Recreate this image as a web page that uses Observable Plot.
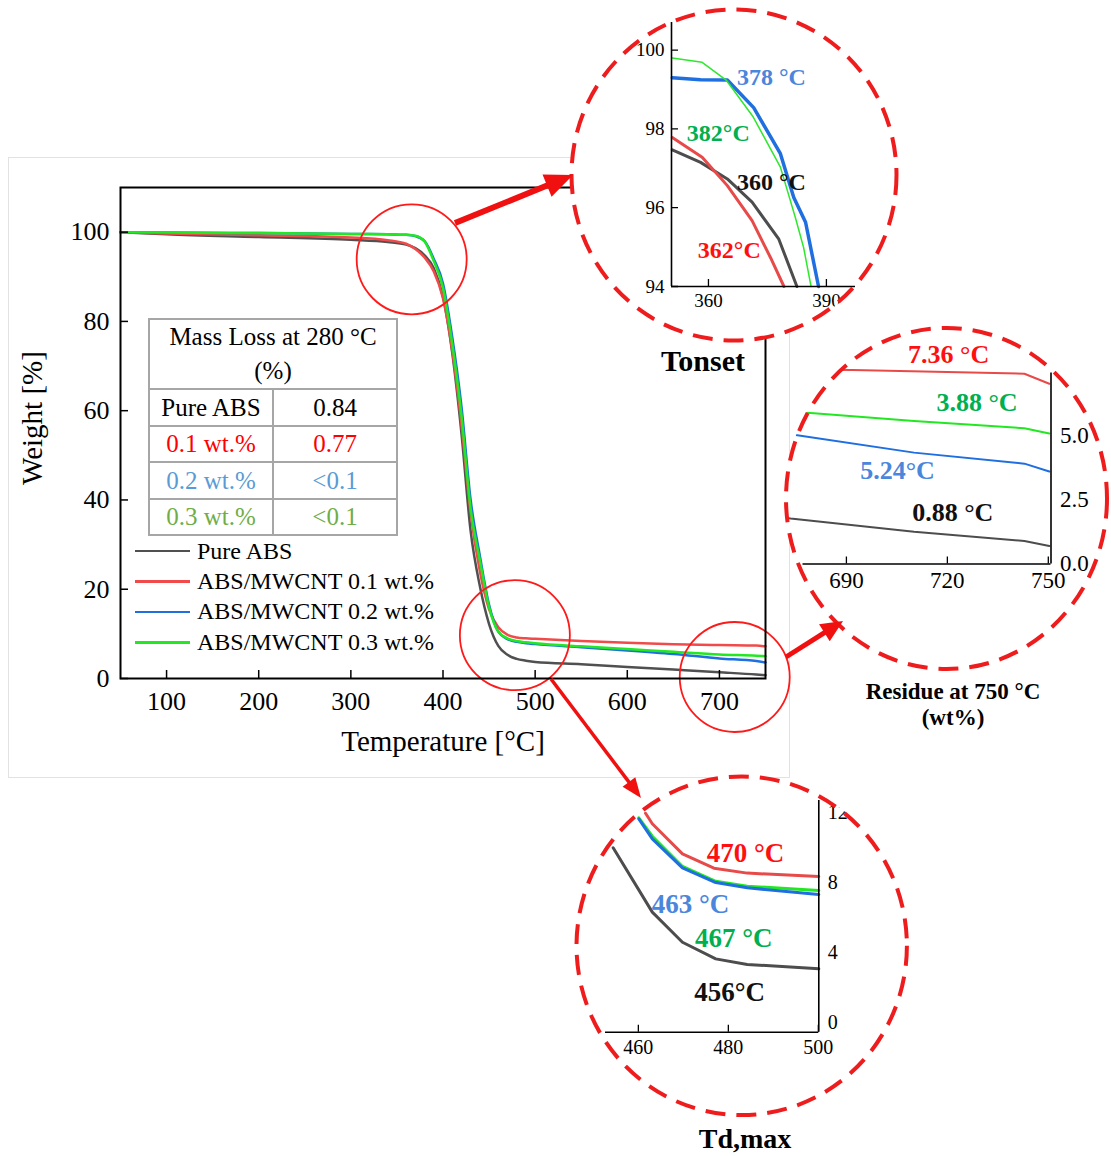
<!DOCTYPE html>
<html><head><meta charset="utf-8">
<script src="https://cdn.jsdelivr.net/npm/d3@7"></script>
<script src="https://cdn.jsdelivr.net/npm/@observablehq/plot@0.6"></script>
<style>
body{margin:0;background:#fff;}
#page{position:relative;width:1111px;height:1156px;overflow:hidden;font-family:"Liberation Serif","Times New Roman",serif;color:#000;}
.abs{position:absolute;}
.inset{position:absolute;background:#fff;clip-path:ellipse(50% 50% at 50% 50%);}
.inset svg{position:absolute;left:0;top:0;}
#bg{position:absolute;left:8px;top:157px;width:780px;height:619px;border:1px solid #e2e2e2;}
#tbl{position:absolute;left:148px;top:318px;border-collapse:collapse;font-size:25px;}
#tbl td{border:2.5px solid #a6a6a6;text-align:center;padding:0;line-height:1;}
.title{position:absolute;font-weight:bold;text-align:center;transform:translateX(-50%);white-space:nowrap;line-height:1;}
#legend{position:absolute;left:135px;top:536px;font-size:24px;}
.lrow{height:30.4px;display:flex;align-items:center;}
.lline{width:55px;height:2.5px;margin-right:7px;}
</style></head>
<body><div id="page">
<div id="bg"></div>
<div id="mainHost" class="abs" style="left:0;top:0"></div>
<table id="tbl"></table>
<div id="legend"></div>
<div id="inOnset" class="inset"></div>
<div id="inResidue" class="inset"></div>
<div id="inTd" class="inset"></div>
<div class="title" style="left:703px;top:346px;font-size:30px">Tonset</div>
<div class="title" style="left:953px;top:680px;font-size:23px">Residue at 750 °C</div>
<div class="title" style="left:953px;top:706px;font-size:23px">(wt%)</div>
<div class="title" style="left:745px;top:1125px;font-size:28px">Td,max</div>
</div>
<script>
// ---------- Main TGA data ----------
const seriesNames = ["Pure ABS", "ABS/MWCNT 0.1 wt.%", "ABS/MWCNT 0.2 wt.%", "ABS/MWCNT 0.3 wt.%"];
const seriesColors = ["#505050", "#f04a4a", "#1f6fe0", "#22e822"];
const temps   = [50, 100, 200, 300, 340, 360, 370, 380, 390, 400, 410, 420, 430, 440, 450, 460, 470, 480, 490, 500, 550, 600, 650, 700, 740, 750];
const wPure   = [100, 99.5, 98.9, 98.3, 97.8, 97.2, 96.4, 94.8, 91.9, 85.5, 73, 55, 33, 20.7, 12.2, 7.3, 5.3, 4.4, 4.0, 3.7, 3.2, 2.6, 2.0, 1.4, 0.9, 0.75];
const wCnt01  = [100, 99.7, 99.3, 98.8, 98.2, 97.4, 96.2, 94.3, 91.2, 85.2, 73.5, 57, 37, 24, 15.5, 11.5, 9.8, 9.2, 9.0, 8.9, 8.4, 8.0, 7.7, 7.5, 7.4, 7.2];
const wCnt02  = [100, 99.9, 99.8, 99.6, 99.5, 99.4, 99.1, 98.0, 94.0, 88.5, 76.5, 61, 40, 27.5, 16.5, 10.5, 8.8, 8.2, 7.9, 7.7, 7.0, 6.3, 5.5, 4.5, 3.9, 3.6];
const wCnt03  = [100, 99.9, 99.8, 99.6, 99.5, 99.4, 99.2, 97.9, 93.5, 87.5, 75, 59, 38, 26.5, 16, 10.5, 9.0, 8.4, 8.1, 7.9, 7.2, 6.6, 6.0, 5.4, 5.1, 5.0];
const xTicks = [100, 200, 300, 400, 500, 600, 700];
const yTicks = [0, 20, 40, 60, 80, 100];
const xLabel = "Temperature [°C]";
const yLabel = "Weight [%]";
// zoomed regions marked on the main chart (temperature, weight)
const zoomSpotT = [366, 478, 716.6];
const zoomSpotW = [93.9, 9.7, 0.34];

// ---------- Table ----------
const tableHead = ["Mass Loss at 280 °C", "(%)"];
const tableRows = ["Pure ABS", "0.1 wt.%", "0.2 wt.%", "0.3 wt.%"];
const tableValues = ["0.84", "0.77", "<0.1", "<0.1"];
const tableColors = ["#000000", "#ff0000", "#5b9bd5", "#70ad47"];

// ---------- Tonset inset ----------
const onsetPureT  = [350.8, 358.0, 364.8, 371.1, 377.9, 382.5];
const onsetPureW  = [97.47, 97.15, 96.73, 96.14, 95.20, 94.0];
const onsetCnt01T = [350.8, 358.4, 364.8, 371.1, 375.8, 379.2];
const onsetCnt01W = [97.78, 97.28, 96.56, 95.67, 94.73, 94.0];
const onsetCnt02T = [350.8, 358.0, 364.8, 371.5, 378.3, 381.7, 384.7, 388.0];
const onsetCnt02W = [99.30, 99.25, 99.24, 98.54, 97.37, 96.26, 95.63, 94.0];
const onsetCnt03T = [350.8, 358.4, 364.5, 371.4, 378.3, 382.1, 384.2, 386.1];
const onsetCnt03W = [99.80, 99.69, 99.24, 98.30, 97.03, 95.75, 94.99, 94.0];
const onsetXTicks = [360, 390];
const onsetYTicks = [94, 96, 98, 100];
const onsetLabels = ["378 °C", "382°C", "360 °C", "362°C"];
const onsetLabelT = [376.0, 362.5, 376.0, 365.3];
const onsetLabelW = [99.31, 97.89, 96.64, 94.93];
const onsetLabelColors = ["#4a86dc", "#00b050", "#111111", "#ff1010"];

// ---------- Residue inset ----------
const resPureT  = [670, 673.4, 710.1, 742.9, 750.3];
const resPureW  = [1.85, 1.78, 1.26, 0.90, 0.70];
const resCnt01T = [670, 691.8, 742.9, 750.3];
const resCnt01W = [7.60, 7.58, 7.43, 7.04];
const resCnt02T = [670, 676.9, 710.1, 742.9, 750.3];
const resCnt02W = [5.13, 5.00, 4.35, 3.92, 3.61];
const resCnt03T = [670, 680.4, 710.1, 742.9, 750.3];
const resCnt03W = [5.98, 5.89, 5.59, 5.30, 5.10];
const resXTicks = [690, 720, 750];
const resYTicks = [0, 2.5, 5];
const resLabels = ["7.36 °C", "3.88 °C", "5.24°C", "0.88 °C"];
const resLabelT = [720.4, 728.8, 705.2, 721.6];
const resLabelW = [8.16, 6.29, 3.63, 1.99];
const resLabelColors = ["#ff1010", "#00b050", "#4a86dc", "#111111"];

// ---------- Td,max inset ----------
const tdPureT  = [454.4, 463.1, 469.8, 477.2, 484.2, 500.1];
const tdPureW  = [10.54, 6.86, 5.14, 4.19, 3.87, 3.62];
const tdCnt01T = [461.6, 463.1, 469.8, 476.8, 484.2, 500.1];
const tdCnt01W = [12.51, 11.91, 10.19, 9.37, 9.09, 8.90];
const tdCnt02T = [460.1, 463.1, 469.8, 477.2, 484.2, 500.1];
const tdCnt02W = [12.19, 11.05, 9.39, 8.55, 8.25, 7.87];
const tdCnt03T = [460.1, 463.1, 469.8, 477.2, 484.2, 500.1];
const tdCnt03W = [12.25, 11.20, 9.47, 8.62, 8.34, 8.10];
const tdXTicks = [460, 480, 500];
const tdYTicks = [0, 4, 8, 12];
const tdLabels = ["470 °C", "463 °C", "467 °C", "456°C"];
const tdLabelT = [483.8, 471.6, 481.2, 480.3];
const tdLabelW = [10.21, 7.30, 5.35, 2.27];
const tdLabelColors = ["#ff1010", "#4a86dc", "#00b050", "#111111"];

// ---------- layout (pixels) ----------
const insetBoxes = {
  onset:   {cx: 734,   cy: 175,   rx: 164,   ry: 167},
  residue: {cx: 946.5, cy: 498.5, rx: 162,   ry: 172},
  td:      {cx: 741.7, cy: 945.8, rx: 166.7, ry: 170.8}
};
const arrows = [
  {x1: 455, y1: 223, x2: 573, y2: 175, w: 6,   hl: 28, hw: 24},
  {x1: 786, y1: 657, x2: 843, y2: 621, w: 5,   hl: 22, hw: 20},
  {x1: 551, y1: 679, x2: 641, y2: 798, w: 3.5, hl: 20, hw: 16}
];

const FONT = "Liberation Serif, Times New Roman, serif";
const mainRows = seriesNames.flatMap((s, i) => temps.map((t, j) => ({series: s, t, w: [wPure, wCnt01, wCnt02, wCnt03][i][j]})));
const zoomSpots = zoomSpotT.map((t, i) => ({t, w: zoomSpotW[i]}));

const main = Plot.plot({
  width: 790, height: 780,
  marginLeft: 120, marginRight: 25, marginTop: 187, marginBottom: 102,
  x: {domain: [50, 750]},
  y: {domain: [0, 110]},
  color: {domain: seriesNames, range: seriesColors},
  style: {fontFamily: FONT, fontSize: "26px", color: "#000", background: "transparent", overflow: "visible"},
  marks: [
    Plot.line(mainRows, {x: "t", y: "w", z: "series", stroke: "series", strokeWidth: 2.5, curve: "monotone-x"}),
    Plot.dot(zoomSpots, {x: "t", y: "w", r: 55, stroke: "#ff1a1a", strokeWidth: 1.8, fill: "none"}),
    Plot.frame({stroke: "#000", strokeWidth: 2}),
    Plot.axisX(xTicks, {tickSize: 0, tickPadding: 13, label: null, fontSize: 26}),
    Plot.axisX(xTicks, {tickSize: 8, dy: -8, tickFormat: () => "", label: null, strokeWidth: 1.5}),
    Plot.axisY(yTicks, {tickSize: 0, tickPadding: 11, label: null, fontSize: 26}),
    Plot.axisY(yTicks, {tickSize: 8, dx: 8, tickFormat: () => "", label: null, strokeWidth: 1.5}),
    Plot.text([xLabel], {text: d => d, frameAnchor: "bottom", dy: 72, fontSize: 29}),
    Plot.text([yLabel], {text: d => d, frameAnchor: "left", textAnchor: "middle", dx: -88, dy: -15, rotate: -90, fontSize: 29})
  ]
});
document.getElementById("mainHost").appendChild(main);

// table
const tbl = document.getElementById("tbl");
{
  const tr = document.createElement("tr");
  const td = document.createElement("td");
  td.colSpan = 2;
  td.style.height = "66px";
  td.style.lineHeight = "34px";
  td.innerHTML = tableHead.map(s => s.replace("<", "&lt;")).join("<br>");
  tr.appendChild(td); tbl.appendChild(tr);
}
tableRows.forEach((r, i) => {
  const tr = document.createElement("tr");
  [r, tableValues[i]].forEach((s, k) => {
    const td = document.createElement("td");
    td.textContent = s;
    td.style.color = tableColors[i];
    td.style.height = "34.5px";
    td.style.width = "122px";
    tr.appendChild(td);
  });
  tbl.appendChild(tr);
});

// legend
const leg = document.getElementById("legend");
seriesNames.forEach((s, i) => {
  const row = document.createElement("div"); row.className = "lrow";
  const ln = document.createElement("div"); ln.className = "lline"; ln.style.background = seriesColors[i];
  const tx = document.createElement("span"); tx.textContent = s;
  row.appendChild(ln); row.appendChild(tx); leg.appendChild(row);
});

// inset helper
function makeInset(id, box, cfg) {
  const host = document.getElementById(id);
  const W = box.rx * 2, H = box.ry * 2;
  host.style.left = (box.cx - box.rx) + "px";
  host.style.top = (box.cy - box.ry) + "px";
  host.style.width = W + "px";
  host.style.height = H + "px";
  const marks = [];
  cfg.series.forEach(sr => {
    marks.push(Plot.line(sr.T.map((t, j) => ({t, w: sr.W[j]})), {x: "t", y: "w", stroke: sr.color, strokeWidth: sr.width}));
  });
  const xd = cfg.xDomain, yd = cfg.yDomain;
  const axisYPos = [cfg.yAxis === "left" ? xd[0] : xd[1]];
  marks.push(Plot.ruleY([yd[0]], {stroke: "#000", strokeWidth: 1.6}));
  marks.push(Plot.ruleX(axisYPos, {stroke: "#000", strokeWidth: 1.6}));
  marks.push(Plot.axisX(cfg.xTicks, {tickSize: 0, tickPadding: cfg.xPad, label: null, fontSize: cfg.fs}));
  marks.push(Plot.axisX(cfg.xTicks, {tickSize: 7, dy: -7, tickFormat: () => "", label: null, strokeWidth: 1.3}));
  marks.push(Plot.axisY(cfg.yTicks, {anchor: cfg.yAxis, tickSize: 0, tickPadding: cfg.yPad, label: null, fontSize: cfg.fs, dy: cfg.yLabelDy || 0, tickFormat: cfg.yFormat}));
  if (cfg.yTickMarks) marks.push(Plot.axisY(cfg.yTicks, {anchor: cfg.yAxis, tickSize: 7, dx: cfg.yAxis === "left" ? 7 : -7, tickFormat: () => "", label: null, strokeWidth: 1.3}));
  const lab = cfg.labels.map((s, i) => ({s, t: cfg.labelT[i], w: cfg.labelW[i], c: cfg.labelColors[i]}));
  marks.push(Plot.text(lab, {x: "t", y: "w", text: "s", fill: "c", fontSize: cfg.lfs, fontWeight: "bold"}));
  const svg = Plot.plot({
    width: W, height: H,
    marginLeft: cfg.m[0], marginRight: W - cfg.m[1], marginTop: cfg.m[2], marginBottom: H - cfg.m[3],
    x: {domain: xd}, y: {domain: yd},
    style: {fontFamily: FONT, fontSize: cfg.fs + "px", color: "#000", background: "transparent", overflow: "visible"},
    marks
  });
  host.appendChild(svg);
}

makeInset("inOnset", insetBoxes.onset, {
  series: [
    {T: onsetPureT, W: onsetPureW, color: "#4d4d4d", width: 3},
    {T: onsetCnt01T, W: onsetCnt01W, color: "#e84a4a", width: 3},
    {T: onsetCnt02T, W: onsetCnt02W, color: "#1f6fe0", width: 3.5},
    {T: onsetCnt03T, W: onsetCnt03W, color: "#2ee82e", width: 1.5}
  ],
  xDomain: [350.6, 397.4], yDomain: [94, 100.7],
  m: [101, 285, 14, 278],
  xTicks: onsetXTicks, yTicks: onsetYTicks, yAxis: "left", yTickMarks: true,
  xPad: 7, yPad: 7, fs: 19, lfs: 24,
  labels: onsetLabels, labelT: onsetLabelT, labelW: onsetLabelW, labelColors: onsetLabelColors
});

makeInset("inResidue", insetBoxes.residue, {
  series: [
    {T: resPureT, W: resPureW, color: "#4d4d4d", width: 2},
    {T: resCnt01T, W: resCnt01W, color: "#e84a4a", width: 2},
    {T: resCnt02T, W: resCnt02W, color: "#1f6fe0", width: 2},
    {T: resCnt03T, W: resCnt03W, color: "#22e822", width: 2}
  ],
  xDomain: [677.1, 750.8], yDomain: [0, 7.46],
  m: [17.5, 265.5, 45.5, 236.5],
  xTicks: resXTicks, yTicks: resYTicks, yAxis: "right", yTickMarks: false,
  yFormat: d3.format(".1f"),
  xPad: 8, yPad: 9, fs: 23, lfs: 26,
  labels: resLabels, labelT: resLabelT, labelW: resLabelW, labelColors: resLabelColors
});

makeInset("inTd", insetBoxes.td, {
  series: [
    {T: tdPureT, W: tdPureW, color: "#4d4d4d", width: 3},
    {T: tdCnt01T, W: tdCnt01W, color: "#e84a4a", width: 3},
    {T: tdCnt03T, W: tdCnt03W, color: "#22e822", width: 3},
    {T: tdCnt02T, W: tdCnt02W, color: "#1f6fe0", width: 3}
  ],
  xDomain: [452.7, 500.1], yDomain: [0, 13.24],
  m: [30, 243.3, 25, 256.7],
  xTicks: tdXTicks, yTicks: tdYTicks, yAxis: "right", yTickMarks: false,
  yLabelDy: -10,
  xPad: 8, yPad: 9, fs: 20, lfs: 27,
  labels: tdLabels, labelT: tdLabelT, labelW: tdLabelW, labelColors: tdLabelColors
});

// overlay: dashed inset borders and arrows
const ov = d3.select("#page").append("svg")
  .attr("width", 1111).attr("height", 1156)
  .style("position", "absolute").style("left", 0).style("top", 0).style("pointer-events", "none");
Object.values(insetBoxes).forEach(b => {
  ov.append("ellipse").attr("cx", b.cx).attr("cy", b.cy).attr("rx", b.rx - 1.5).attr("ry", b.ry - 1.5)
    .attr("fill", "none").attr("stroke", "#ee1c1c").attr("stroke-width", 4).attr("stroke-dasharray", "20 11");
});
arrows.forEach(a => {
  const dx = a.x2 - a.x1, dy = a.y2 - a.y1, L = Math.hypot(dx, dy);
  const ux = dx / L, uy = dy / L, px = -uy, py = ux;
  const bx = a.x2 - ux * a.hl, by = a.y2 - uy * a.hl;
  ov.append("line").attr("x1", a.x1).attr("y1", a.y1).attr("x2", bx + ux * 2).attr("y2", by + uy * 2)
    .attr("stroke", "#f01010").attr("stroke-width", a.w);
  ov.append("path").attr("d", `M${a.x2},${a.y2}L${bx + px * a.hw / 2},${by + py * a.hw / 2}L${bx - px * a.hw / 2},${by - py * a.hw / 2}Z`)
    .attr("fill", "#f01010");
});
</script>
</body></html>
